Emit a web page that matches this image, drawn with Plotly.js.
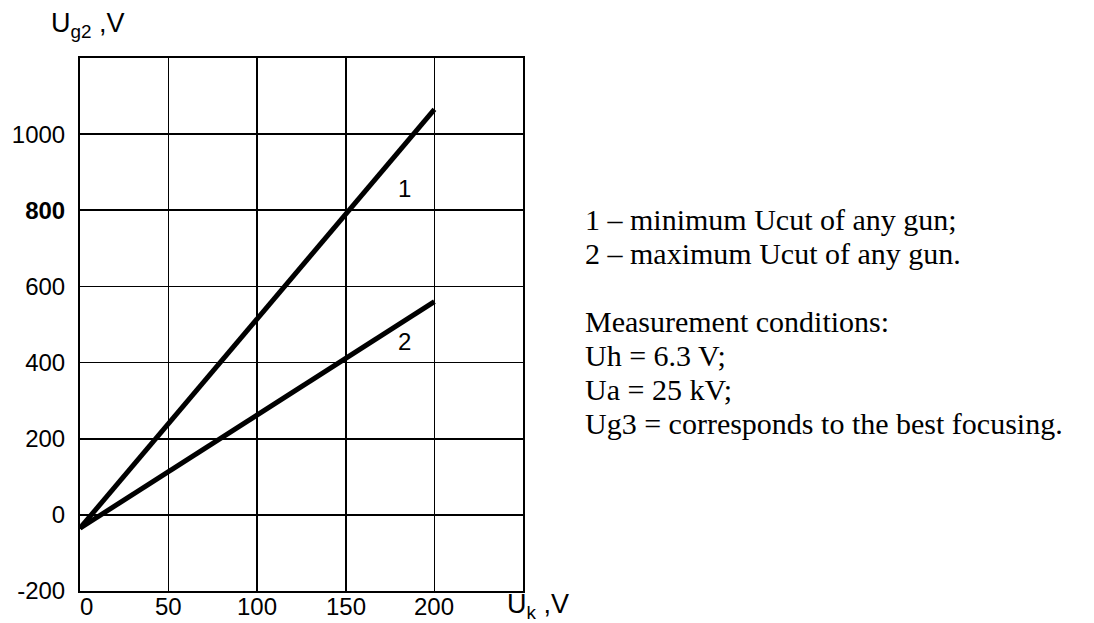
<!DOCTYPE html>
<html>
<head>
<meta charset="utf-8">
<script src="https://cdn.plot.ly/plotly-3.0.1.min.js"></script>
<style>html,body{margin:0;padding:0;background:#fff;}#chart{width:1094px;height:623px;}</style>
</head>
<body>
<div id="chart"></div>
<script>
// Data
const ukValues = [0, 200];                 // U_k, V
const curve1 = [-35, 1065];                // 1 – minimum Ucut
const curve2 = [-35, 560];                 // 2 – maximum Ucut
const xTickVals = [0, 50, 100, 150, 200, 250];
const xTickText = ['0', '50', '100', '150', '200', ''];
const yTickVals = [-200, 0, 200, 400, 600, 800, 1000, 1200];
const yTickText = ['-200', '0', '200', '400', '600', '<b>800</b>', '1000', ''];
const curveLabels = ['1', '2'];
const curveLabelX = [183, 183];
const curveLabelY = [858, 455];
const noteLines = [
  '1 \u2013 minimum Ucut of any gun;',
  '2 \u2013 maximum Ucut of any gun.',
  '',
  'Measurement conditions:',
  'Uh = 6.3 V;',
  'Ua = 25 kV;',
  'Ug3 = corresponds to the best focusing.'
];

const tickFont = {family: 'Liberation Sans, Arial, sans-serif', size: 24, color: '#000'};
const titleFont = {family: 'Liberation Sans, Arial, sans-serif', size: 27, color: '#000'};
const noteFont = {family: 'Liberation Serif, Times New Roman, serif', size: 30, color: '#000'};

const traces = [
  {x: ukValues, y: curve1, mode: 'lines', line: {color: '#000', width: 5}, hoverinfo: 'skip'},
  {x: ukValues, y: curve2, mode: 'lines', line: {color: '#000', width: 5}, hoverinfo: 'skip'}
];

const annotations = curveLabels.map((t, i) => ({
  x: curveLabelX[i], y: curveLabelY[i], xref: 'x', yref: 'y', text: t, showarrow: false,
  font: tickFont
}));
// x tick labels drawn as annotations so they sit close under the axis
xTickVals.forEach((v, i) => {
  if (!xTickText[i]) return;
  annotations.push({
    x: v, y: 0, xref: 'x', yref: 'paper', text: xTickText[i], showarrow: false,
    xanchor: 'center', yanchor: 'middle', yshift: -15, xshift: v === 0 ? 6 : 0, font: tickFont
  });
});
annotations.push({
  xref: 'paper', yref: 'paper', x: -0.07, y: 1.0, yshift: 33, xanchor: 'left', yanchor: 'middle',
  text: 'U<sub>g2</sub> ,V', showarrow: false, font: titleFont
});
annotations.push({
  xref: 'paper', yref: 'paper', x: 1.0, y: 0, xshift: -18, yshift: -15, xanchor: 'left', yanchor: 'middle',
  text: 'U<sub>k</sub> ,V', showarrow: false, font: titleFont
});
noteLines.forEach((t, i) => {
  if (!t) return;
  annotations.push({
    xref: 'paper', yref: 'paper', x: 1.0, y: 1.0, xshift: 60, yshift: -(161 + 34 * i),
    xanchor: 'left', yanchor: 'middle', text: t, align: 'left', showarrow: false, font: noteFont
  });
});

const layout = {
  width: 1094, height: 623,
  margin: {l: 80, r: 571, t: 58, b: 32},
  paper_bgcolor: '#fff', plot_bgcolor: '#fff',
  showlegend: false,
  xaxis: {
    range: [0, 250], tickmode: 'array', tickvals: xTickVals, ticktext: xTickText,
    showticklabels: false,
    showgrid: true, gridcolor: '#000', gridwidth: 1.6,
    showline: true, linecolor: '#000', linewidth: 2, mirror: true,
    zeroline: false, ticks: '', fixedrange: true
  },
  yaxis: {
    range: [-200, 1200], tickmode: 'array', tickvals: yTickVals, ticktext: yTickText,
    showgrid: true, gridcolor: '#000', gridwidth: 1.6,
    showline: true, linecolor: '#000', linewidth: 2, mirror: true,
    zeroline: false, ticks: '', ticklabelstandoff: 8, tickfont: tickFont, fixedrange: true
  },
  annotations: annotations
};

Plotly.newPlot('chart', traces, layout, {displayModeBar: false, staticPlot: true});
</script>
</body>
</html>
